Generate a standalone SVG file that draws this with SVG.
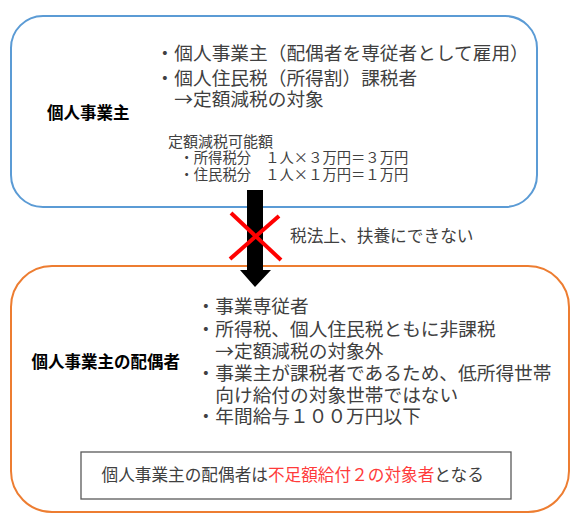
<svg xmlns="http://www.w3.org/2000/svg" width="586" height="531" viewBox="0 0 586 531">
<style>
text{font-family:"Noto Sans CJK JP","Noto Sans",sans-serif;fill:#404040}
.lbl{font-weight:bold;fill:#000;font-size:16.5px}
.big{font-size:18.7px}
.mid{font-size:15px}
.sm{font-size:14.3px}
.red{fill:#ff3b3b}
</style>
<rect width="586" height="531" fill="#fff"/>
<g id="owner">
<rect x="11" y="16" width="526" height="191" rx="32" ry="32" fill="#fff" stroke="#5b9bd5" stroke-width="2"/>
<text class="lbl" x="47" y="119.2">個人事業主</text>
<text class="big" x="155.6" y="60.4">・個人事業主（配偶者を専従者として雇用）</text>
<text class="big" x="155.6" y="85">・個人住民税（所得割）課税者</text>
<text class="big" x="174.3" y="106.4">→定額減税の対象</text>
<text class="mid" x="168" y="146.5">定額減税可能額</text>
<text class="sm" x="179.5" y="163.3">・所得税分　１人×３万円＝３万円</text>
<text class="sm" x="179.5" y="180">・住民税分　１人×１万円＝１万円</text>
</g>
<g id="spouse">
<rect x="11" y="266" width="558" height="246" rx="41" ry="41" fill="#fff" stroke="#ed7d31" stroke-width="2"/>
<text class="lbl" x="31.5" y="368.4">個人事業主の配偶者</text>
<text class="big" x="196.6" y="312.7">・事業専従者</text>
<text class="big" x="196.6" y="336.2">・所得税、個人住民税ともに非課税</text>
<text class="big" x="215.3" y="358.2">→定額減税の対象外</text>
<text class="big" x="196.6" y="380.2">・事業主が課税者であるため、低所得世帯</text>
<text class="big" x="215.3" y="401.7">向け給付の対象世帯ではない</text>
<text class="big" x="196.6" y="423.2">・年間給与１００万円以下</text>
</g>
<g id="note">
<rect x="81" y="452" width="430" height="47" fill="#fff" stroke="#595959" stroke-width="1.3"/>
<text x="101.5" y="481" style="font-size:16.65px">個人事業主の配偶者は<tspan class="red">不足額給付２の対象者</tspan>となる</text>
</g>
<g id="connectors">
<polygon points="247,190 263,190 263,270 271,270 255,287 240,270 247,270" fill="#000"/>
<line x1="231" y1="213" x2="281" y2="260" stroke="#ff0000" stroke-width="4"/>
<line x1="279" y1="216" x2="230" y2="259" stroke="#ff0000" stroke-width="4"/>
<text x="290" y="242" style="font-size:16.7px">税法上、扶養にできない</text>
</g>
</svg>
